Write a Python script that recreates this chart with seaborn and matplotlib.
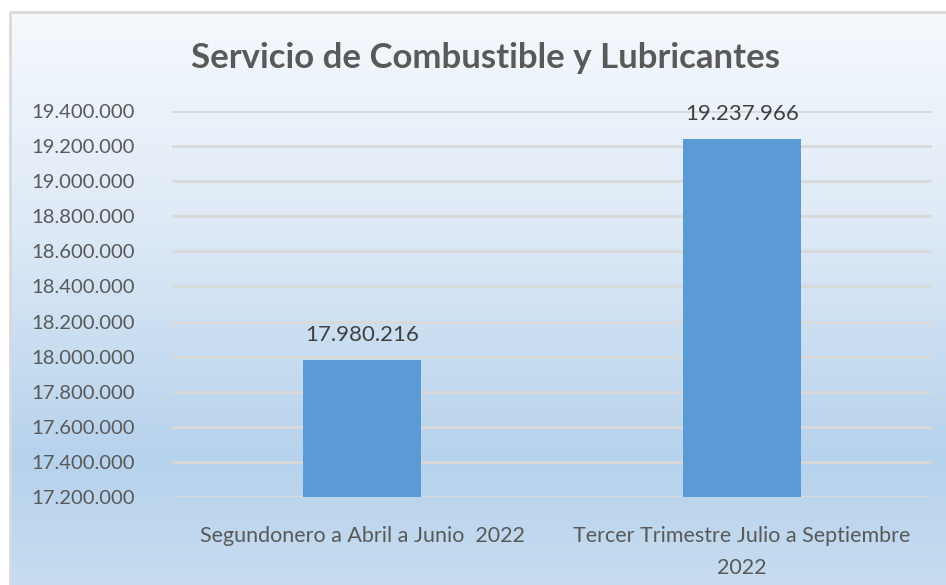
import numpy as np
import pandas as pd
import matplotlib
matplotlib.use("Agg")
import matplotlib.pyplot as plt
import seaborn as sns
from matplotlib.colors import LinearSegmentedColormap
from matplotlib.patches import Rectangle

categories = ["Segundonero a Abril a Junio  2022",
              "Tercer Trimestre Julio a Septiembre\n2022"]
values = [17980216, 19237966]
value_labels = ["17.980.216", "19.237.966"]
y_ticks = [17200000, 17400000, 17600000, 17800000, 18000000, 18200000,
           18400000, 18600000, 18800000, 19000000, 19200000, 19400000]
title = "Servicio de Combustible y Lubricantes"

def fmt(v):
    return f"{v:,.0f}".replace(",", ".")

sns.set_theme(style="white")
plt.rcParams['font.family'] = ['Lato', 'DejaVu Sans']

W, H = 946, 585
fig = plt.figure(figsize=(W / 100, H / 100), dpi=100)

# background gradient
bg = fig.add_axes([0, 0, 1, 1], zorder=-10)
bg.set_xlim(0, W)
bg.set_ylim(H, 0)
bg.axis("off")
cmap = LinearSegmentedColormap.from_list(
    "g", [(0.0, "#F5F9FD"), (0.35, "#E0EBF7"), (0.78, "#B6D2EC"), (1.0, "#C7DCF0")])
grad = np.linspace(0, 1, 256).reshape(-1, 1)
bg.imshow(grad, cmap=cmap, aspect="auto", extent=[10, W, H, 12], zorder=0)
bg.add_patch(Rectangle((10, 12), W + 5, H, fill=False, edgecolor="#D9D9D9", lw=2, zorder=1))

# plot area: x 172..932, y 111..497 (px)
ax = fig.add_axes([172 / W, 1 - 497 / H, (932 - 172) / W, (497 - 111) / H])
ax.patch.set_alpha(0)
df = pd.DataFrame({"cat": categories, "val": values})
sns.barplot(data=df, x="cat", y="val", color="#5B9BD5", saturation=1,
            width=0.31, ax=ax, zorder=3, linewidth=0, edgecolor="none")
ax.set_ylim(17200000, 19400000)
ax.set_xlim(-0.5, 1.5)
ax.set_yticks(y_ticks)
ax.set_yticklabels([fmt(v) for v in y_ticks])
ax.yaxis.grid(True, color="#D9D9D9", lw=2)
ax.set_axisbelow(True)
for s in ax.spines.values():
    s.set_visible(False)
ax.set_xlabel("")
ax.set_ylabel("")
ax.tick_params(axis="y", labelsize=14.6, colors="#595959", length=0, pad=27)
ax.tick_params(axis="x", labelsize=15.5, colors="#595959", length=0, pad=21)
for lab in ax.get_xticklabels():
    lab.set_linespacing(1.75)
    lab.set_verticalalignment("top")

for i, (v, t) in enumerate(zip(values, value_labels)):
    ax.annotate(t, (i, v), xytext=(0, 11), textcoords="offset points",
                ha="center", va="bottom", fontsize=16, color="#404040")

fig.text(485 / W, 1 - 58 / H, title, ha="center", va="center",
         fontsize=25, fontweight="bold", color="#595959")

fig.savefig("out.png", dpi=100)
